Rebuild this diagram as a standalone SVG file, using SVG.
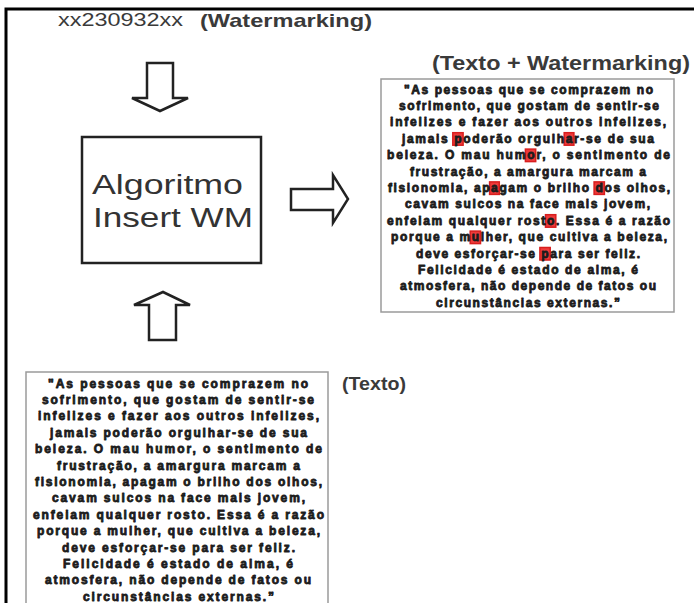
<svg xmlns="http://www.w3.org/2000/svg" width="694" height="603" viewBox="0 0 694 603">
  <style>
    .hdr { font-family: "Liberation Sans", Arial, sans-serif; fill: #3a3a3a; }
    .bold { font-weight: bold; }
    .algo { font-family: "Liberation Sans", Arial, sans-serif; font-size: 27px; fill: #333; }
    .quote { font-family: "Liberation Sans", Arial, sans-serif; font-weight: bold; font-size: 12px; fill: #1c1c1c; stroke: #1c1c1c; stroke-width: 0.8; stroke-linejoin: round; }
    .panel { fill: #fff; stroke: #9a9a9a; stroke-width: 1.5; }
    .arrow { fill: #fff; stroke: #222; stroke-width: 2.5; stroke-linejoin: miter; }
    .mark { fill: #ee3b3b; stroke: #d81e1e; stroke-width: 1.5; }
  </style>

  <rect width="694" height="603" fill="#fff"/>
  <!-- outer frame (top and left edges) -->
  <path d="M6,603 V9 H694" fill="none" stroke="#000" stroke-width="3"/>

  <!-- header -->
  <g id="header">
    <text class="hdr" x="58" y="26" font-size="18" textLength="125" lengthAdjust="spacingAndGlyphs">xx230932xx</text>
    <text class="hdr bold" x="200" y="27" font-size="19" textLength="172" lengthAdjust="spacingAndGlyphs">(Watermarking)</text>
  </g>

  <!-- algorithm block -->
  <g id="algoritmo">
    <rect x="82" y="137" width="179" height="126" fill="#fff" stroke="#222" stroke-width="2.5"/>
    <text class="algo" x="92" y="194" textLength="151" lengthAdjust="spacingAndGlyphs">Algoritmo</text>
    <text class="algo" x="93" y="227" textLength="160" lengthAdjust="spacingAndGlyphs">Insert WM</text>
  </g>

  <!-- block arrows -->
  <g id="connectors">
    <polygon class="arrow" points="147,63 173,63 173,98 188,98 160,111 132,98 147,98"/>
    <polygon class="arrow" points="291,189 333,189 333,175 348,199 333,223 333,210 291,210"/>
    <polygon class="arrow" points="163,292 190,305 176,305 176,340 149,340 149,305 134,305"/>
  </g>

  <!-- watermarked text -->
  <g id="texto-watermarking">
    <text class="hdr bold" x="432" y="70" font-size="21" textLength="258" lengthAdjust="spacingAndGlyphs">(Texto + Watermarking)</text>
    <rect class="panel" x="381" y="79" width="293" height="233"/>
    <!-- marked characters -->
    <rect class="mark" x="452.8" y="132.7" width="10.3" height="12.5"/>
    <rect class="mark" x="564.2" y="132.7" width="9.7" height="12.5"/>
    <rect class="mark" x="525.4" y="149.1" width="10.3" height="12.5"/>
    <rect class="mark" x="489.6" y="181.9" width="9.7" height="12.5"/>
    <rect class="mark" x="594.1" y="181.9" width="10.3" height="12.5"/>
    <rect class="mark" x="545.5" y="214.7" width="10.3" height="12.5"/>
    <rect class="mark" x="470.2" y="231.1" width="10.3" height="12.5"/>
    <rect class="mark" x="539.9" y="247.5" width="10.3" height="12.5"/>
    <g class="quote">
      <text x="404" y="93.5" textLength="249" lengthAdjust="spacing">"As pessoas que se comprazem no</text>
      <text x="399" y="109.9" textLength="260" lengthAdjust="spacing">sofrimento, que gostam de sentir-se</text>
      <text x="390" y="126.3" textLength="276" lengthAdjust="spacing">infelizes e fazer aos outros infelizes,</text>
      <text x="402" y="142.7" textLength="252" lengthAdjust="spacing">jamais poderão orgulhar-se de sua</text>
      <text x="387" y="159.1" textLength="283" lengthAdjust="spacing">beleza. O mau humor, o sentimento de</text>
      <text x="410" y="175.5" textLength="236" lengthAdjust="spacing">frustração, a amargura marcam a</text>
      <text x="388" y="191.9" textLength="282" lengthAdjust="spacing">fisionomia, apagam o brilho dos olhos,</text>
      <text x="405" y="208.3" textLength="245" lengthAdjust="spacing">cavam sulcos na face mais jovem,</text>
      <text x="387" y="224.7" textLength="283" lengthAdjust="spacing">enfeiam qualquer rosto. Essa é a razão</text>
      <text x="391" y="241.1" textLength="276" lengthAdjust="spacing">porque a mulher, que cultiva a beleza,</text>
      <text x="416" y="257.5" textLength="224" lengthAdjust="spacing">deve esforçar-se para ser feliz.</text>
      <text x="418" y="273.9" textLength="220" lengthAdjust="spacing">Felicidade é estado de alma, é</text>
      <text x="400" y="290.3" textLength="256" lengthAdjust="spacing">atmosfera, não depende de fatos ou</text>
      <text x="436" y="306.7" textLength="184" lengthAdjust="spacing">circunstâncias externas.”</text>
    </g>
  </g>

  <!-- original text -->
  <g id="texto">
    <rect class="panel" x="26" y="372" width="302" height="245"/>
    <text class="hdr bold" x="342" y="390" font-size="18.5" textLength="64" lengthAdjust="spacingAndGlyphs">(Texto)</text>
    <g class="quote">
      <text x="48" y="387.5" textLength="260" lengthAdjust="spacing">"As pessoas que se comprazem no</text>
      <text x="42" y="403.9" textLength="272" lengthAdjust="spacing">sofrimento, que gostam de sentir-se</text>
      <text x="38" y="420.3" textLength="281" lengthAdjust="spacing">infelizes e fazer aos outros infelizes,</text>
      <text x="50" y="436.7" textLength="257" lengthAdjust="spacing">jamais poderão orgulhar-se de sua</text>
      <text x="35" y="453.1" textLength="287" lengthAdjust="spacing">beleza. O mau humor, o sentimento de</text>
      <text x="57" y="469.5" textLength="243" lengthAdjust="spacing">frustração, a amargura marcam a</text>
      <text x="35" y="485.9" textLength="287" lengthAdjust="spacing">fisionomia, apagam o brilho dos olhos,</text>
      <text x="52" y="502.3" textLength="253" lengthAdjust="spacing">cavam sulcos na face mais jovem,</text>
      <text x="33" y="518.7" textLength="291" lengthAdjust="spacing">enfeiam qualquer rosto. Essa é a razão</text>
      <text x="37" y="535.1" textLength="283" lengthAdjust="spacing">porque a mulher, que cultiva a beleza,</text>
      <text x="62" y="551.5" textLength="233" lengthAdjust="spacing">deve esforçar-se para ser feliz.</text>
      <text x="63" y="567.9" textLength="230" lengthAdjust="spacing">Felicidade é estado de alma, é</text>
      <text x="45" y="584.3" textLength="266" lengthAdjust="spacing">atmosfera, não depende de fatos ou</text>
      <text x="83" y="600.7" textLength="191" lengthAdjust="spacing">circunstâncias externas.”</text>
    </g>
  </g>
</svg>
